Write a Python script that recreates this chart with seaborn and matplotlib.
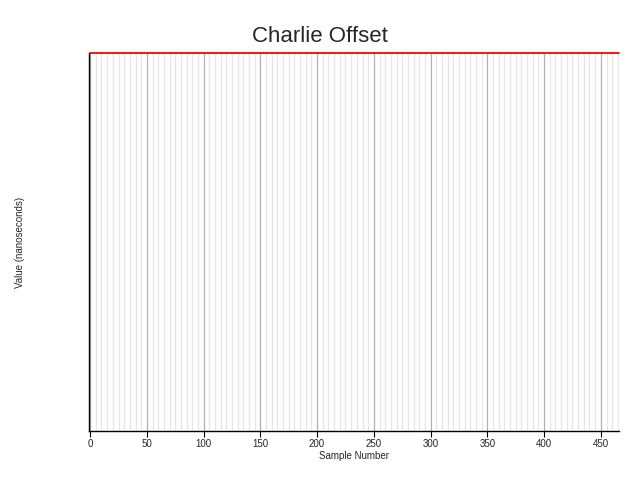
import matplotlib
matplotlib.use("Agg")
import matplotlib.pyplot as plt
import seaborn as sns
import numpy as np
import pandas as pd

sns.set_style("white")
plt.rcParams['font.family'] = ['Liberation Sans', 'DejaVu Sans']

n_samples = 467
sample = list(range(n_samples))
value = [0.0] * n_samples
df = pd.DataFrame({"Sample Number": sample, "Value": value})

fig = plt.figure(figsize=(6.4, 4.8), dpi=100)
ax = fig.add_axes([89/640, 1-431/480, (619-89)/640, (431-53)/480])
sns.lineplot(data=df, x="Sample Number", y="Value", color="red", linewidth=1.3, ax=ax, clip_on=False, zorder=5)
ax.set_xlim(-1, 466)
ax.set_ylim(-1, 0)
ax.set_xticks(range(0, 451, 50))
ax.set_xticks(range(0, 466, 5), minor=True)
ax.grid(True, which="major", axis="x", color="#b0b0b0", linewidth=0.9)
ax.grid(True, which="minor", axis="x", color="#e6e6e6", linewidth=0.9)
ax.set_yticks([])
for s in ["top", "right"]:
    ax.spines[s].set_visible(False)
for s in ["left", "bottom"]:
    ax.spines[s].set_color("black")
    ax.spines[s].set_linewidth(1)
ax.tick_params(axis="x", which="major", length=4, color="black", labelsize=7, bottom=True, direction="out", pad=2)
ax.tick_params(axis="x", which="minor", length=0)
ax.set_xlabel("Sample Number", fontsize=7, labelpad=1)
ax.set_ylabel("Value (nanoseconds)", fontsize=7)
ax.yaxis.set_label_coords((25-89)/530, 0.5)
fig.text(0.5, 1-36/480, "Charlie Offset", fontsize=16, ha="center", va="center")
fig.savefig("out.png", dpi=100)
